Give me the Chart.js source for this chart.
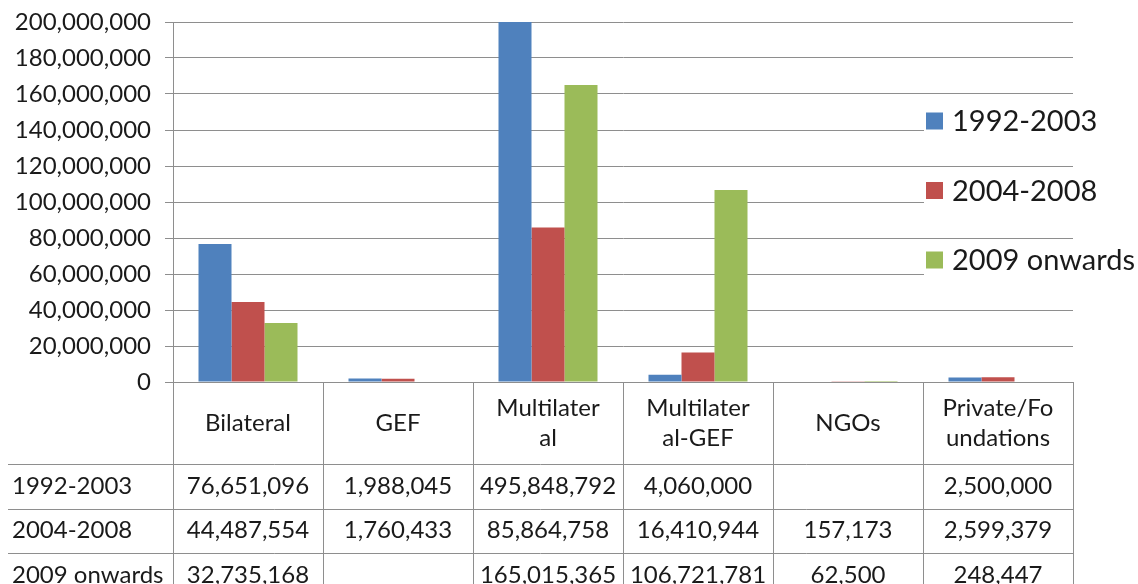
<!DOCTYPE html>
<html>
<head>
<meta charset="utf-8">
<script src="https://cdn.jsdelivr.net/npm/chart.js@4.4.1/dist/chart.umd.min.js"></script>
<style>
  html, body { margin: 0; padding: 0; background: #fff; }
  #wrap { width: 1138px; height: 584px; }
</style>
</head>
<body>
<div id="wrap"><canvas id="chart"></canvas></div>
<script>
// Data
const categories = [['Bilateral'], ['GEF'], ['Multilater', 'al'], ['Multilater', 'al-GEF'], ['NGOs'], ['Private/Fo', 'undations']];
const seriesNames = ['1992-2003', '2004-2008', '2009 onwards'];
const values1992 = [76651096, 1988045, 495848792, 4060000, null, 2500000];
const values2004 = [44487554, 1760433, 85864758, 16410944, 157173, 2599379];
const values2009 = [32735168, null, 165015365, 106721781, 62500, 248447];
const yMin = 0;
const yMax = 200000000;
const yStep = 20000000;

const seriesValues = [values1992, values2004, values2009];
const seriesColors = ['#4F81BD', '#C0504D', '#9BBB59'];
const lineColor = '#8e8e8e';
const textColor = '#1a1a1a';
const fontFamily = 'Lato, "Open Sans", sans-serif';

function fmt(v) {
    return v === null ? '' : v.toLocaleString('en-US');
}

// Data table drawn under the plot, columns taken from the x scale
const tablePlugin = {
    id: 'dataTable',
    afterDraw(chart) {
        const ctx = chart.ctx;
        const x = chart.scales.x;
        const top = chart.chartArea.bottom;
        const bottom = chart.height;
        const headerH = 82;
        const rowH = 44.5;
        const rowsTop = top + headerH;

        ctx.save();
        ctx.strokeStyle = lineColor;
        ctx.lineWidth = 1;
        ctx.beginPath();
        for (let r = 0; r <= seriesNames.length; r++) {
            const y = Math.round(rowsTop + r * rowH) + 0.5;
            ctx.moveTo(8, y);
            ctx.lineTo(x.right, y);
        }
        for (let i = 0; i <= categories.length; i++) {
            const px = Math.round(x.getPixelForValue(i - 0.5)) + 0.5;
            ctx.moveTo(px, top);
            ctx.lineTo(px, bottom);
        }
        ctx.stroke();

        ctx.fillStyle = textColor;
        ctx.font = '24px ' + fontFamily;
        ctx.textBaseline = 'middle';
        ctx.textAlign = 'center';
        categories.forEach((lines, i) => {
            const cx = x.getPixelForValue(i);
            const lh = 30;
            const y0 = top + headerH / 2 - (lines.length - 1) * lh / 2;
            lines.forEach((t, k) => ctx.fillText(t, cx, y0 + k * lh));
        });
        seriesNames.forEach((name, r) => {
            const cy = rowsTop + r * rowH + rowH / 2;
            ctx.textAlign = 'left';
            ctx.fillText(name, 12, cy);
            ctx.textAlign = 'center';
            seriesValues[r].forEach((v, i) => {
                ctx.fillText(fmt(v), x.getPixelForValue(i), cy);
            });
        });
        ctx.restore();
    }
};

// Legend laid over the right part of the plot, as in the picture
const legendPlugin = {
    id: 'overlayLegend',
    afterDraw(chart) {
        const ctx = chart.ctx;
        const lx = 926;
        const ly = 121;
        const step = 69.5;
        const box = 17;
        ctx.save();
        ctx.font = '29px ' + fontFamily;
        ctx.textBaseline = 'middle';
        ctx.textAlign = 'left';
        chart.data.datasets.forEach((ds, i) => {
            const cy = ly + i * step;
            ctx.fillStyle = '#fff';
            ctx.fillRect(lx - 2, cy - 16, 215, 32);
            ctx.fillStyle = ds.backgroundColor;
            ctx.fillRect(lx, cy - box / 2, box, box);
            ctx.fillStyle = textColor;
            ctx.fillText(ds.label, lx + box + 9, cy + 1);
        });
        ctx.restore();
    }
};

new Chart(document.getElementById('chart'), {
    type: 'bar',
    data: {
        labels: categories,
        datasets: seriesNames.map((name, i) => ({
            label: name,
            data: seriesValues[i],
            backgroundColor: seriesColors[i],
            borderWidth: 0,
            categoryPercentage: 0.66,
            barPercentage: 1
        }))
    },
    options: {
        responsive: true,
        maintainAspectRatio: false,
        animation: false,
        layout: { padding: { top: 22, right: 65, bottom: 194, left: 0 } },
        plugins: {
            legend: { display: false },
            tooltip: { enabled: false }
        },
        scales: {
            x: {
                ticks: { display: false },
                grid: { display: false },
                border: { display: false }
            },
            y: {
                min: yMin,
                max: yMax,
                ticks: {
                    stepSize: yStep,
                    color: textColor,
                    font: { family: fontFamily, size: 24 },
                    padding: 14,
                    callback: v => v.toLocaleString('en-US')
                },
                grid: { color: lineColor, tickLength: 8 },
                border: { color: lineColor },
                afterFit(scale) {
                    scale.width = 173;
                    scale.paddingTop = 0;
                    scale.paddingBottom = 0;
                }
            }
        }
    },
    plugins: [tablePlugin, legendPlugin]
});
</script>
</body>
</html>
